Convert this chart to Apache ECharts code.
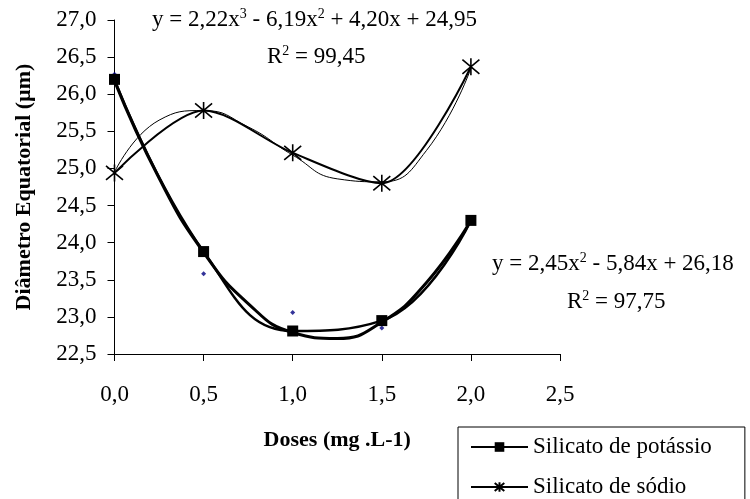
<!DOCTYPE html>
<html><head><meta charset="utf-8">
<script src="https://cdn.jsdelivr.net/npm/echarts@6/dist/echarts.min.js"></script>
<style>html,body{margin:0;padding:0;background:#fff}#c{width:750px;height:499px}</style>
</head><body><div id="c"></div>
<script>
const doses = [0, 0.5, 1.0, 1.5, 2.0];
const potassio = [26.2, 23.88, 22.81, 22.95, 24.3];
const sodio = [24.94, 25.78, 25.21, 24.8, 26.37];
const extraDoses = [0, 0.5, 1.0, 1.5];
const extraDots = [26.27, 23.58, 23.06, 22.85];
const trendX = [0, 0.25, 0.5, 0.75, 1.0, 1.25, 1.5, 1.75, 2.0];
const trendPotassio = [26.18, 24.87, 23.87, 23.18, 22.79, 22.71, 22.93, 23.46, 24.3];
const trendSodio = [24.95, 25.65, 25.78, 25.56, 25.18, 24.86, 24.82, 25.24, 26.35];
const xTicks = [0, 0.5, 1.0, 1.5, 2.0, 2.5];
const yTicks = [22.5, 23, 23.5, 24, 24.5, 25, 25.5, 26, 26.5, 27];

const pair = (xs, ys) => xs.map((x, i) => [x, ys[i]]);
const fmt = v => v.toFixed(1).replace('.', ',');
const F = '"Liberation Serif", "Times New Roman", serif';
const star = 'path://M0,0L10,10M10,0L0,10M5,-1L5,11';
const sup = { fontSize: 14, verticalAlign: 'top', padding: [0, 0, 12, 0], fontFamily: F };

const chart = echarts.init(document.getElementById('c'));
chart.setOption({
  animation: false,
  backgroundColor: '#fff',
  textStyle: { fontFamily: F, color: '#000' },
  grid: { left: 114.5, right: 190, top: 20, bottom: 145 },
  xAxis: {
    type: 'value', min: xTicks[0], max: xTicks[xTicks.length - 1], interval: 0.5,
    name: 'Doses (mg .L-1)', nameLocation: 'middle', nameGap: 75,
    nameTextStyle: { fontFamily: F, fontWeight: 'bold', fontSize: 22, color: '#000' },
    axisLine: { lineStyle: { color: '#000', width: 1 } },
    axisTick: { show: true, length: 7, lineStyle: { color: '#000' } },
    axisLabel: { fontFamily: F, fontSize: 23, color: '#000', margin: 29, formatter: fmt },
    splitLine: { show: false }
  },
  yAxis: {
    type: 'value', min: yTicks[0], max: yTicks[yTicks.length - 1], interval: 0.5,
    name: 'Diâmetro Equatorial (µm)', nameLocation: 'middle', nameGap: 79, nameRotate: 90,
    nameTextStyle: { fontFamily: F, fontWeight: 'bold', fontSize: 22, color: '#000' },
    axisLine: { show: true, lineStyle: { color: '#000', width: 1 } },
    axisTick: { show: true, length: 7, lineStyle: { color: '#000' } },
    axisLabel: { fontFamily: F, fontSize: 23, color: '#000', margin: 18, formatter: fmt },
    splitLine: { show: false }
  },
  legend: {
    left: 458, top: 427, width: 290, height: 90, orient: 'vertical',
    itemGap: 14, padding: [7, 33, 12, 12],
    borderColor: '#000', borderWidth: 1, borderRadius: 0,
    itemWidth: 57, itemHeight: 12,
    textStyle: { fontFamily: F, fontSize: 23, color: '#000', lineHeight: 26 },
    data: ['Silicato de potássio', 'Silicato de sódio']
  },
  series: [
    {
      name: 'Silicato de potássio', type: 'line', smooth: 0.45,
      data: pair(doses, potassio),
      symbol: 'rect', symbolSize: 11, itemStyle: { color: '#000' },
      lineStyle: { color: '#000', width: 2.5 }, z: 5
    },
    {
      name: 'trendP', type: 'line', smooth: true, data: pair(trendX, trendPotassio),
      showSymbol: false, symbol: 'none', lineStyle: { color: '#000', width: 3 }, z: 4
    },
    {
      name: 'Silicato de sódio', type: 'line', smooth: 0.3,
      data: pair(doses, sodio),
      symbol: star, symbolSize: 17,
      itemStyle: { color: 'none', borderColor: '#000', borderWidth: 1.6 },
      lineStyle: { color: '#000', width: 2 }, z: 5
    },
    {
      name: 'trendS', type: 'line', smooth: true, data: pair(trendX, trendSodio),
      showSymbol: false, symbol: 'none', lineStyle: { color: '#000', width: 1 }, z: 4
    },
    {
      name: 'dots', type: 'scatter', data: pair(extraDoses, extraDots),
      symbol: 'diamond', symbolSize: 5, itemStyle: { color: '#000080' }, z: 3
    }
  ],
  graphic: [
    {
      type: 'text', left: 152, top: 7,
      style: { text: 'y = 2,22x{s|3} - 6,19x{s|2} + 4,20x + 24,95', font: '23px ' + F, fill: '#000', rich: { s: sup } }
    },
    {
      type: 'text', left: 267, top: 44,
      style: { text: 'R{s|2} = 99,45', font: '23px ' + F, fill: '#000', rich: { s: sup } }
    },
    {
      type: 'text', left: 492, top: 251,
      style: { text: 'y = 2,45x{s|2} - 5,84x + 26,18', font: '23px ' + F, fill: '#000', rich: { s: sup } }
    },
    {
      type: 'text', left: 567, top: 289,
      style: { text: 'R{s|2} = 97,75', font: '23px ' + F, fill: '#000', rich: { s: sup } }
    }
  ]
});
</script></body></html>
